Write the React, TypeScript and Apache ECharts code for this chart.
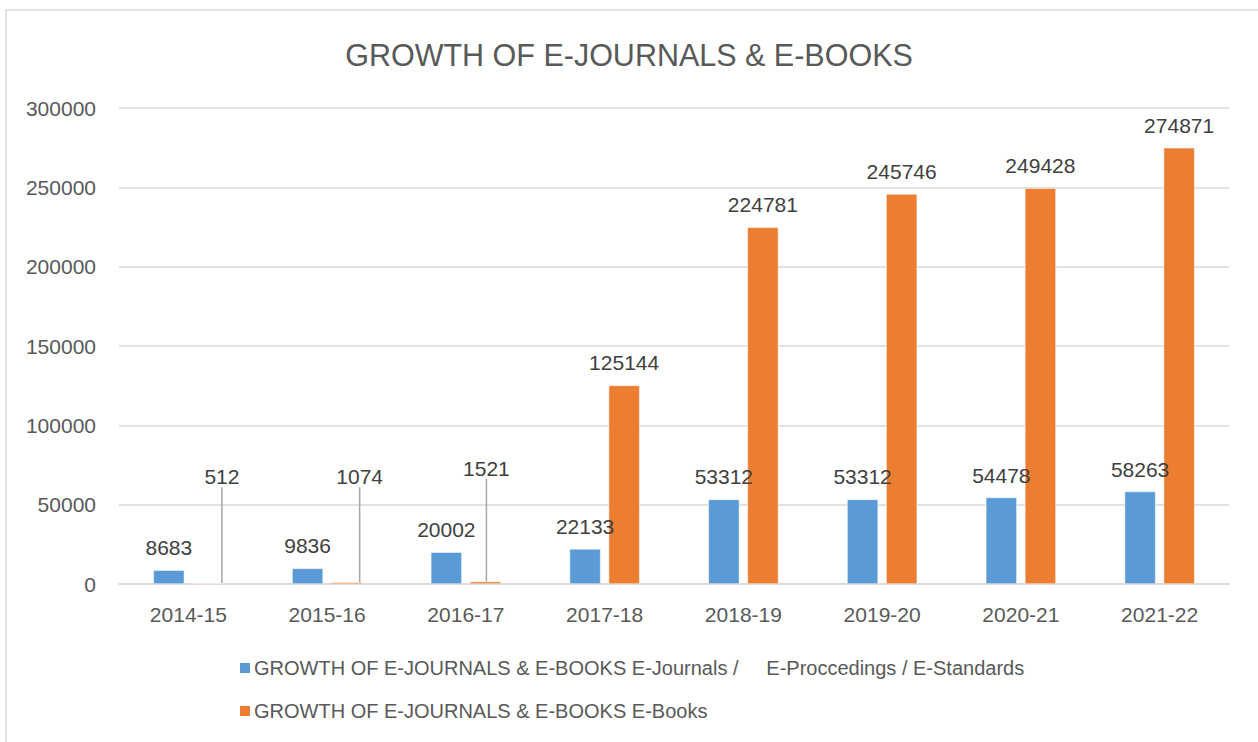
import React, { useEffect, useRef } from "react";
import * as echarts from "echarts";

const titleText = "GROWTH OF E-JOURNALS & E-BOOKS";
const categories = ["2014-15", "2015-16", "2016-17", "2017-18", "2018-19", "2019-20", "2020-21", "2021-22"];
const journalsName = "GROWTH OF E-JOURNALS & E-BOOKS E-Journals /     E-Proccedings / E-Standards";
const booksName = "GROWTH OF E-JOURNALS & E-BOOKS E-Books";
const journals = [8683, 9836, 20002, 22133, 53312, 53312, 54478, 58263];
const books = [512, 1074, 1521, 125144, 224781, 245746, 249428, 274871];
const yTicks = { min: 0, max: 300000, interval: 50000 };

const FONT = "Liberation Sans";
const TEXT = "#595959";
const LABEL = "#404040";

export default function App() {
  const ref = useRef<HTMLDivElement>(null);
  useEffect(() => {
    if (!ref.current) return;
    const chart = echarts.init(ref.current, null, { renderer: "svg" });
    const leader: Record<number, { dx: number; dy: number }> = {
      0: { dx: 14, dy: -84 },
      1: { dx: 13, dy: -83 },
      2: { dx: 1, dy: -91 },
    };
    const bookData = books.map((v, i) =>
      leader[i]
        ? { value: v, labelLine: { show: true, lineStyle: { color: "#a6a6a6", width: 1.5 } } }
        : { value: v, labelLine: { show: false } }
    );
    chart.setOption({
      animation: false,
      backgroundColor: "#ffffff",
      textStyle: { fontFamily: FONT },
      graphic: [
        {
          type: "rect",
          shape: { x: 6, y: 10, width: 1270, height: 760 },
          style: { fill: "none", stroke: "#d9d9d9", lineWidth: 1.5 },
          silent: true,
        },
      ],
      title: {
        text: titleText,
        left: "center",
        top: 34,
        textStyle: { fontFamily: FONT, fontSize: 30.5, fontWeight: "normal", color: TEXT },
      },
      legend: {
        orient: "vertical",
        left: 233,
        top: 653,
        itemWidth: 12,
        itemHeight: 12,
        itemGap: 23,
        icon: "rect",
        textStyle: { fontFamily: FONT, fontSize: 20, color: TEXT, padding: [0, 0, 0, -2] },
        data: [journalsName, booksName],
      },
      grid: { left: 119, right: 29, top: 108, bottom: 158, containLabel: false },
      xAxis: {
        type: "category",
        data: categories,
        axisLine: { lineStyle: { color: "#d9d9d9", width: 1.5 } },
        axisTick: { show: false },
        axisLabel: { fontFamily: FONT, fontSize: 21, color: TEXT, margin: 20 },
      },
      yAxis: {
        type: "value",
        min: yTicks.min,
        max: yTicks.max,
        interval: yTicks.interval,
        axisLine: { show: false },
        axisTick: { show: false },
        splitLine: { lineStyle: { color: "#d9d9d9", width: 1.5 } },
        axisLabel: {
          fontFamily: FONT,
          fontSize: 21,
          color: TEXT,
          margin: 23,
          formatter: (v: number) => String(v),
        },
      },
      series: [
        {
          name: journalsName,
          type: "bar",
          data: journals,
          barWidth: 31,
          barGap: "26%",
          itemStyle: { color: "#5b9bd5", borderColor: "#ffffff", borderWidth: 0.5 },
          label: { show: true, position: "top", distance: 12, fontFamily: FONT, fontSize: 21, color: LABEL },
        },
        {
          name: booksName,
          type: "bar",
          data: bookData,
          barWidth: 31,
          barGap: "26%",
          itemStyle: { color: "#ed7d31", borderColor: "#ffffff", borderWidth: 0.5 },
          label: { show: true, position: "top", distance: 12, fontFamily: FONT, fontSize: 21, color: LABEL },
          labelLine: { show: false },
          labelLayout: (params: any) => {
            const l = leader[params.dataIndex];
            return l ? { dx: l.dx, dy: l.dy } : {};
          },
        },
      ],
    });
    return () => chart.dispose();
  }, []);
  return <div ref={ref} style={{ width: 1258, height: 742, position: "absolute", left: 0, top: 0 }} />;
}
